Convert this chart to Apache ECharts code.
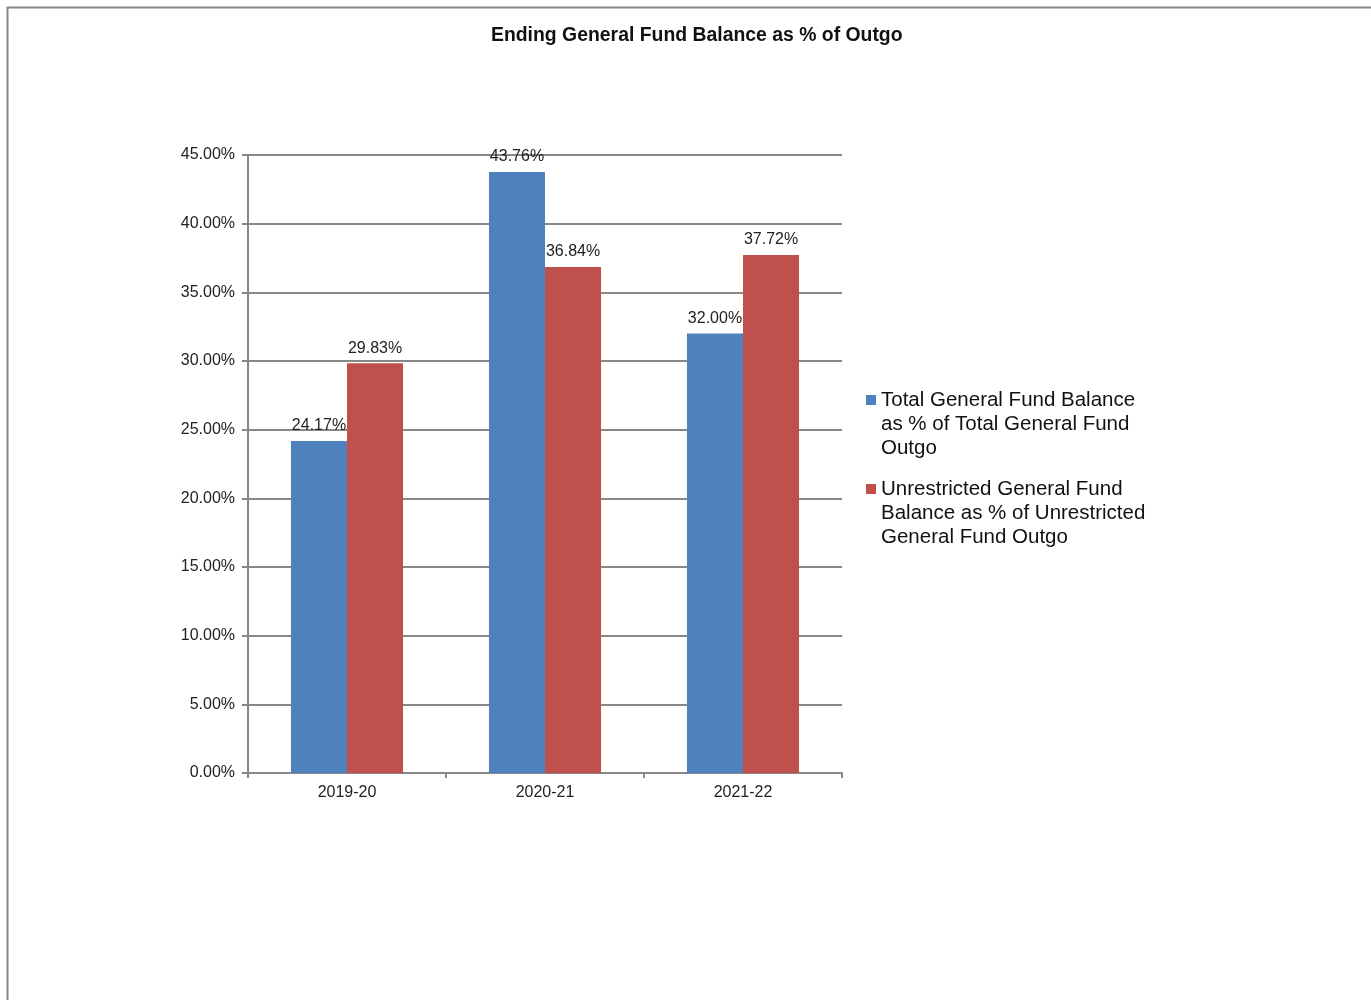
<!DOCTYPE html>
<html>
<head>
<meta charset="utf-8">
<script src="https://cdn.jsdelivr.net/npm/echarts@6/dist/echarts.min.js"></script>
<style>
html,body{margin:0;padding:0;background:#fff;}
#chart{width:1371px;height:1000px;}
</style>
</head>
<body>
<div id="chart"></div>
<script>
const categories = ['2019-20', '2020-21', '2021-22'];
const totalBalance = [24.17, 43.76, 32.00];
const unrestrictedBalance = [29.83, 36.84, 37.72];
const seriesNames = [
  'Total General Fund Balance\nas % of Total General Fund\nOutgo',
  'Unrestricted General Fund\nBalance as % of Unrestricted\nGeneral Fund Outgo'
];
const titleText = 'Ending General Fund Balance as % of Outgo';

const font = 'Liberation Sans, Arial, sans-serif';
const chart = echarts.init(document.getElementById('chart'), null, {renderer: 'canvas'});
const labelCfg = {
  show: true, position: 'top', distance: 7,
  fontFamily: font, fontSize: 16, color: '#222',
  formatter: p => p.value.toFixed(2) + '%'
};
chart.setOption({
  backgroundColor: '#fff',
  animation: false,
  graphic: [{
    type: 'rect', left: 5, top: 5,
    shape: {x: 0, y: 0, width: 1400, height: 1100},
    style: {fill: 'none', stroke: '#888', lineWidth: 2},
    silent: true
  }],
  title: {
    text: titleText, left: 486, top: 21,
    textStyle: {fontFamily: font, fontSize: 19.4, fontWeight: 'bold', color: '#111'}
  },
  legend: {
    orient: 'vertical', left: 861, top: 383,
    itemWidth: 10, itemHeight: 72, itemGap: 17,
    icon: 'path://M0,0M0,7H10V17H0Z M10,72',
    textStyle: {fontFamily: font, fontSize: 20.5, color: '#111', lineHeight: 24},
    data: seriesNames
  },
  grid: {left: 248, right: 529, top: 155, bottom: 227, containLabel: false},
  xAxis: {
    type: 'category', data: categories,
    axisLine: {lineStyle: {color: '#888', width: 2}},
    axisTick: {show: true, length: 5, lineStyle: {color: '#888', width: 2}},
    axisLabel: {fontFamily: font, fontSize: 16, color: '#222', margin: 12}
  },
  yAxis: {
    type: 'value', min: 0, max: 45, interval: 5,
    axisLine: {show: true, lineStyle: {color: '#888', width: 2}},
    axisTick: {show: true, length: 6, lineStyle: {color: '#888', width: 2}},
    splitLine: {lineStyle: {color: '#888', width: 2}},
    axisLabel: {fontFamily: font, fontSize: 16, color: '#222', margin: 13,
      formatter: v => v.toFixed(2) + '%'}
  },
  series: [
    {name: seriesNames[0], type: 'bar', data: totalBalance, barGap: '0%', barCategoryGap: '43.4%',
     itemStyle: {color: '#4F81BD'}, label: labelCfg},
    {name: seriesNames[1], type: 'bar', data: unrestrictedBalance,
     itemStyle: {color: '#C0504D'}, label: labelCfg}
  ]
});
</script>
</body>
</html>
